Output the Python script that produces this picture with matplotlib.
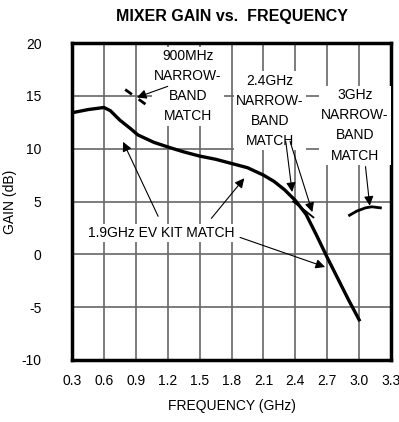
import matplotlib
matplotlib.use("Agg")
import matplotlib.pyplot as plt

plt.rcParams['font.family'] = ['Liberation Sans', 'DejaVu Sans']
plt.rcParams['axes.unicode_minus'] = False

# 1.9GHz EV kit match curve (main)
freq_ev = [0.3, 0.45, 0.6, 0.66, 0.75, 0.85, 0.92, 1.07, 1.22, 1.35, 1.5, 1.65, 1.8, 1.95,
           2.1, 2.2, 2.3, 2.4, 2.5, 2.6, 2.7, 2.8, 2.9, 3.0]
gain_ev = [13.4, 13.7, 13.9, 13.6, 12.7, 11.9, 11.3, 10.6, 10.1, 9.7, 9.3, 9.0, 8.6, 8.2,
           7.5, 6.9, 6.1, 5.1, 3.8, 1.8, -0.3, -2.3, -4.3, -6.2]

# 900MHz narrowband match (dashed segment)
freq_900 = [0.80, 1.02]
gain_900 = [15.6, 14.0]

# 2.4GHz narrowband match
freq_24 = [2.38, 2.47, 2.57]
gain_24 = [5.0, 4.3, 3.5]

# 3GHz narrowband match
freq_3 = [2.91, 2.98, 3.06, 3.12, 3.2]
gain_3 = [3.7, 4.1, 4.4, 4.5, 4.4]

x_ticks = [0.3, 0.6, 0.9, 1.2, 1.5, 1.8, 2.1, 2.4, 2.7, 3.0, 3.3]
x_labels = ['0.3', '0.6', '0.9', '1.2', '1.5', '1.8', '2.1', '2.4', '2.7', '3.0', '3.3']
y_ticks = [-10, -5, 0, 5, 10, 15, 20]

fig = plt.figure(figsize=(3.99, 4.22), dpi=100)
ax = fig.add_axes([0.1805, 0.147, 0.7995, 0.751])

ax.set_xlim(0.3, 3.3)
ax.set_ylim(-10, 20)
ax.set_xticks(x_ticks)
ax.set_xticklabels(x_labels)
ax.set_yticks(y_ticks)
ax.tick_params(length=0, labelsize=10, pad=10)
ax.tick_params(axis='y', pad=22)
ax.grid(True, color='#666666', lw=1.2)
ax.set_axisbelow(True)
for s in ax.spines.values():
    s.set_linewidth(2.5)

ax.plot(freq_ev, gain_ev, color='black', lw=2.4, zorder=3)
ax.plot(freq_900, gain_900, color='black', lw=2.0, dashes=(3, 3), zorder=3)
ax.plot(freq_24, gain_24, color='black', lw=1.3, zorder=3)
ax.plot(freq_3, gain_3, color='black', lw=2.0, zorder=3)

box = dict(facecolor='white', edgecolor='none', pad=1.5)
txt = dict(ha='center', va='center', fontsize=10, linespacing=1.55, bbox=box, zorder=4)
ax.text(1.39, 15.9, '900MHz\nNARROW-\nBAND\nMATCH', **txt)
ax.text(2.16, 13.6, '2.4GHz\nNARROW-\nBAND\nMATCH', **txt)
ax.text(2.96, 12.2, '3GHz\nNARROW-\nBAND\nMATCH', **txt)
ax.text(1.14, 2.0, '1.9GHz EV KIT MATCH', **txt)

arrow = dict(arrowstyle='-|>', lw=0.8, color='black', mutation_scale=14, shrinkA=0, shrinkB=0)
ax.annotate('', xy=(0.91, 14.85), xytext=(1.2, 15.9), arrowprops=arrow, zorder=5)
ax.annotate('', xy=(2.37, 5.9), xytext=(2.31, 10.7), arrowprops=arrow, zorder=5)
ax.annotate('', xy=(2.56, 4.0), xytext=(2.35, 10.7), arrowprops=arrow, zorder=5)
ax.annotate('', xy=(3.1, 4.6), xytext=(3.06, 8.3), arrowprops=arrow, zorder=5)
ax.annotate('', xy=(0.78, 10.65), xytext=(1.11, 3.6), arrowprops=arrow, zorder=5)
ax.annotate('', xy=(1.92, 7.2), xytext=(1.61, 3.4), arrowprops=arrow, zorder=5)
ax.annotate('', xy=(2.68, -1.2), xytext=(1.88, 1.6), arrowprops=arrow, zorder=5)

ax.set_xlabel('FREQUENCY (GHz)', fontsize=10, labelpad=8)
ax.set_ylabel('GAIN (dB)', fontsize=10)
ax.yaxis.set_label_coords(-0.172, 0.5)
fig.text(0.582, 0.962, 'MIXER GAIN vs.  FREQUENCY', ha='center', va='center',
         fontsize=11.5, fontweight='bold')

fig.savefig('out.png', dpi=100)
